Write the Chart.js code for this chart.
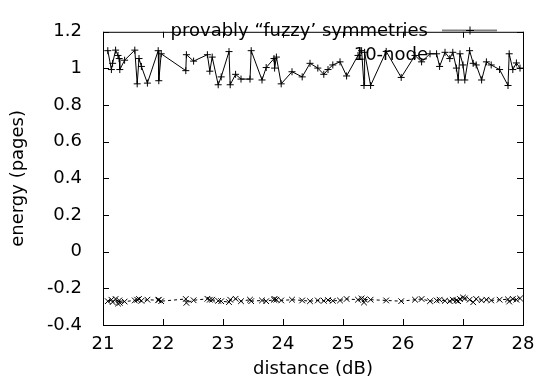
<!DOCTYPE html>
<html>
<head>
<meta charset="utf-8">
<script src="https://cdn.jsdelivr.net/npm/chart.js@4.4.0/dist/chart.umd.min.js"></script>
<style>
  html, body { margin: 0; padding: 0; background: #fff; }
</style>
</head>
<body>
<canvas id="myChart" width="547" height="391"></canvas>
<script>
// distance (dB) of each sample, shared by both series
var distance = [
  21.08, 21.14, 21.16, 21.21, 21.25, 21.27, 21.28, 21.36, 21.53, 21.57,
  21.60, 21.64, 21.74, 21.92, 21.93, 21.97, 22.38, 22.39, 22.51, 22.74,
  22.78, 22.82, 22.92, 22.97, 23.10, 23.12, 23.21, 23.30, 23.45, 23.47,
  23.65, 23.72, 23.85, 23.86, 23.89, 23.97, 24.15, 24.32, 24.45, 24.58,
  24.68, 24.75, 24.83, 24.95, 25.06, 25.25, 25.31, 25.35, 25.36, 25.46,
  25.72, 25.97, 26.20, 26.31, 26.45, 26.56, 26.61, 26.70, 26.78, 26.83,
  26.89, 26.92, 26.95, 27.00, 27.03, 27.11, 27.17, 27.22, 27.31, 27.39,
  27.47, 27.61, 27.75, 27.77, 27.83, 27.89, 27.95
];

// provably "fuzzy' symmetries
var fuzzyEnergy = [
  1.097, 0.994, 1.028, 1.100, 1.071, 1.054, 0.994, 1.045, 1.100, 0.916,
  1.054, 1.011, 0.920, 1.097, 0.933, 1.080, 0.988, 1.075, 1.040, 1.075,
  0.985, 1.062, 0.911, 0.954, 1.092, 0.911, 0.968, 0.942, 0.942, 1.097,
  0.937, 1.005, 1.054, 1.002, 1.062, 0.916, 0.982, 0.954, 1.028, 1.002,
  0.968, 0.994, 1.019, 1.036, 0.959, 1.071, 1.097, 0.907, 1.088, 0.907,
  1.093, 0.951, 1.071, 1.036, 1.080, 1.080, 1.011, 1.088, 1.054, 1.088,
  1.002, 0.937, 1.080, 1.019, 0.937, 1.097, 1.028, 1.019, 0.937, 1.036,
  1.019, 0.994, 0.907, 1.080, 0.994, 1.030, 1.002
];

// 10-node
var nodeEnergy = [
  -0.270, -0.262, -0.275, -0.258, -0.283, -0.266, -0.279, -0.272, -0.266, -0.262,
  -0.258, -0.268, -0.262, -0.265, -0.262, -0.270, -0.258, -0.279, -0.265, -0.257,
  -0.262, -0.262, -0.268, -0.270, -0.275, -0.262, -0.257, -0.270, -0.262, -0.270,
  -0.266, -0.270, -0.262, -0.258, -0.262, -0.266, -0.262, -0.266, -0.270, -0.266,
  -0.268, -0.264, -0.268, -0.266, -0.258, -0.262, -0.255, -0.277, -0.260, -0.262,
  -0.266, -0.270, -0.262, -0.258, -0.270, -0.266, -0.262, -0.268, -0.270, -0.262,
  -0.266, -0.270, -0.258, -0.250, -0.255, -0.262, -0.276, -0.258, -0.265, -0.262,
  -0.266, -0.262, -0.260, -0.272, -0.258, -0.262, -0.255
];

var xTickLabels = ['21', '22', '23', '24', '25', '26', '27', '28'];
var yTickLabels = ['-0.4', '-0.2', '0', '0.2', '0.4', '0.6', '0.8', '1', '1.2'];

var labelFont = { family: 'DejaVu Sans', size: 18 };

function toPoints(ys) {
  return distance.map(function (x, i) { return { x: x, y: ys[i] }; });
}

// gnuplot style frame: box, inward ticks on all four sides, key in the corner
var framePlugin = {
  id: 'frame',
  afterDraw: function (chart) {
    var ctx = chart.ctx;
    var a = chart.chartArea;
    var xs = chart.scales.x, ys = chart.scales.y;
    var tl = 6;
    ctx.save();
    ctx.strokeStyle = '#000';
    ctx.lineWidth = 1;
    ctx.strokeRect(a.left + 0.5, a.top + 0.5, a.right - a.left, a.bottom - a.top);
    ctx.beginPath();
    xs.ticks.forEach(function (t) {
      var px = Math.round(xs.getPixelForValue(t.value)) + 0.5;
      ctx.moveTo(px, a.bottom); ctx.lineTo(px, a.bottom - tl);
      ctx.moveTo(px, a.top); ctx.lineTo(px, a.top + tl);
    });
    ys.ticks.forEach(function (t) {
      var py = Math.round(ys.getPixelForValue(t.value)) + 0.5;
      ctx.moveTo(a.left, py); ctx.lineTo(a.left + tl, py);
      ctx.moveTo(a.right, py); ctx.lineTo(a.right - tl, py);
    });
    ctx.stroke();

    // key
    ctx.font = labelFont.size + 'px ' + labelFont.family;
    ctx.fillStyle = '#000';
    ctx.textAlign = 'right';
    ctx.textBaseline = 'middle';
    ctx.fillText('provably \u201cfuzzy\u2019 symmetries', 428, 31);
    ctx.fillText('10-node', 428, 55);
    ctx.strokeStyle = '#808080';
    ctx.lineWidth = 2;
    ctx.beginPath();
    ctx.moveTo(442, 30.5); ctx.lineTo(497, 30.5);
    ctx.stroke();
    ctx.strokeStyle = '#000';
    ctx.lineWidth = 1;
    ctx.beginPath();
    ctx.moveTo(466, 30.5); ctx.lineTo(474, 30.5);
    ctx.moveTo(470, 26.5); ctx.lineTo(470, 34.5);
    ctx.stroke();
    ctx.restore();
  }
};

var ctx = document.getElementById('myChart').getContext('2d');
var chart = new Chart(ctx, {
  type: 'line',
  data: {
    datasets: [
      {
        label: 'provably \u201cfuzzy\u2019 symmetries',
        data: toPoints(fuzzyEnergy),
        borderColor: '#000',
        borderWidth: 1,
        pointStyle: 'cross',
        pointRadius: 3.5,
        pointBorderColor: '#000',
        pointBorderWidth: 1,
        tension: 0,
        fill: false
      },
      {
        label: '10-node',
        data: toPoints(nodeEnergy),
        borderColor: '#000',
        borderWidth: 1,
        borderDash: [3, 3],
        pointStyle: 'crossRot',
        pointRadius: 4,
        pointBorderColor: '#000',
        pointBorderWidth: 1,
        tension: 0,
        fill: false
      }
    ]
  },
  options: {
    responsive: false,
    animation: false,
    devicePixelRatio: 1,
    layout: { padding: { top: 15, right: 24, bottom: 0, left: 0 } },
    plugins: {
      legend: { display: false },
      tooltip: { enabled: false }
    },
    scales: {
      x: {
        type: 'linear',
        min: 21,
        max: 28,
        grid: { display: false, drawTicks: false },
        border: { display: false },
        ticks: {
          stepSize: 1,
          padding: 9,
          maxRotation: 0,
          color: '#000',
          font: labelFont,
          callback: function (v, i) { return xTickLabels[i]; }
        },
        title: {
          display: true,
          text: 'distance (dB)',
          color: '#000',
          font: labelFont,
          padding: { top: 0, bottom: 11 }
        },
        afterFit: function (s) { s.height = 66; }
      },
      y: {
        min: -0.4,
        max: 1.2,
        grid: { display: false, drawTicks: false },
        border: { display: false },
        ticks: {
          stepSize: 0.2,
          padding: 21,
          color: '#000',
          font: labelFont,
          callback: function (v, i) { return yTickLabels[i]; }
        },
        title: {
          display: true,
          text: 'energy (pages)',
          color: '#000',
          font: labelFont,
          padding: { top: 8, bottom: 0 }
        },
        afterFit: function (s) { s.width = 103; }
      }
    }
  },
  plugins: [framePlugin]
});
</script>
</body>
</html>
